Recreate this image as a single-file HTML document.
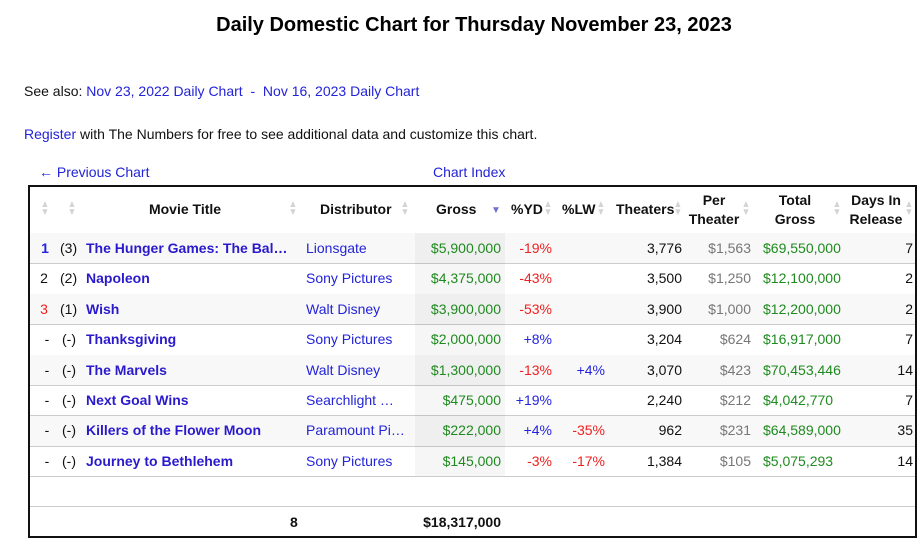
<!DOCTYPE html>
<html><head><meta charset="utf-8"><style>
body{margin:0;width:922px;height:540px;background:#fff;font-family:"Liberation Sans",Arial,sans-serif;font-size:14px;color:#111;position:relative;overflow:hidden}
.a{position:absolute;white-space:nowrap}
.l{color:#2323d8}
h1{position:absolute;top:14px;left:0;width:948px;margin:0;text-align:center;font-size:20px;font-weight:bold;color:#000}
.box{position:absolute;left:28px;top:185px;width:885px;height:349px;border:2px solid #111;box-sizing:content-box}
.row{position:absolute;left:30px;width:885px;height:30px;border-bottom:1px solid #ccc}
.odd{background:#f8f8f8}
.r{text-align:right}
.c{text-align:center}
.t{font-weight:bold;color:#2a1acc}
.gr{color:#1f8a1f}
.red{color:#f02020}
.bl{color:#2323e0}
.gy{color:#777}
.hd{font-weight:bold;color:#111}
.s{position:absolute;top:201px;color:#d4d4d4;font-size:10px;line-height:8px;transform:scaleX(0.9)}
</style></head><body>
<h1>Daily Domestic Chart for Thursday November 23, 2023</h1>
<div class="a" style="left:24px;top:83px">See also: <span class="l">Nov 23, 2022 Daily Chart</span> <span class="l">&nbsp;-&nbsp;</span> <span class="l">Nov 16, 2023 Daily Chart</span></div>
<div class="a" style="left:24px;top:126px"><span class="l">Register</span> with The Numbers for free to see additional data and customize this chart.</div>
<div class="a l" style="left:39px;top:164px">← Previous Chart</div>
<div class="a l" style="left:433px;top:164px">Chart Index</div>

<div class="box"></div>
<div class="a" style="left:30px;top:233px;width:885px;height:1px;background:#111"></div>

<div class="row odd" style="top:233px"></div>
<div class="row" style="top:264px"></div>
<div class="row odd" style="top:294px"></div>
<div class="row" style="top:325px"></div>
<div class="row odd" style="top:355px"></div>
<div class="row" style="top:385px"></div>
<div class="row odd" style="top:416px"></div>
<div class="row" style="top:446px"></div>
<div class="row" style="top:476px"></div>
<div class="a" style="left:415px;top:233px;width:90px;height:243px;background:rgba(0,0,0,0.035)"></div>

<!-- header -->
<div class="a hd c" style="left:120px;width:130px;top:201px">Movie Title</div>
<div class="a hd" style="left:320px;top:201px">Distributor</div>
<div class="a hd" style="left:436px;top:201px">Gross</div>
<div class="a hd" style="left:511px;top:201px">%YD</div>
<div class="a hd" style="left:562px;top:201px">%LW</div>
<div class="a hd" style="left:616px;top:201px">Theaters</div>
<div class="a hd c" style="left:684px;width:60px;top:191px;line-height:19px">Per<br>Theater</div>
<div class="a hd c" style="left:765px;width:60px;top:191px;line-height:19px">Total<br>Gross</div>
<div class="a hd c" style="left:846px;width:60px;top:191px;line-height:19px">Days In<br>Release</div>
<!-- sort icons -->
<div class="s" style="left:40px">▲<br>▼</div>
<div class="s" style="left:67px">▲<br>▼</div>
<div class="s" style="left:288px">▲<br>▼</div>
<div class="s" style="left:400px">▲<br>▼</div>
<div class="a" style="left:491px;top:207px;color:#7070d0;font-size:10px;line-height:8px">▼</div>
<div class="s" style="left:543px">▲<br>▼</div>
<div class="s" style="left:596px">▲<br>▼</div>
<div class="s" style="left:673px">▲<br>▼</div>
<div class="s" style="left:741px">▲<br>▼</div>
<div class="s" style="left:832px">▲<br>▼</div>
<div class="s" style="left:904px">▲<br>▼</div>

<!-- row 1 -->
<div class="a c" style="left:35px;width:20px;top:240px;color:#2323e0;font-weight:bold">1</div>
<div class="a" style="left:60px;top:240px">(3)</div>
<div class="a t" style="left:86px;top:240px">The Hunger Games: The Bal…</div>
<div class="a l" style="left:306px;top:240px">Lionsgate</div>
<div class="a r gr" style="right:421px;top:240px">$5,900,000</div>
<div class="a r red" style="right:370px;top:240px">-19%</div>
<div class="a r" style="right:240px;top:240px">3,776</div>
<div class="a r gy" style="right:171px;top:240px">$1,563</div>
<div class="a gr" style="left:763px;top:240px">$69,550,000</div>
<div class="a r" style="right:9px;top:240px">7</div>
<!-- row 2 -->
<div class="a c" style="left:34px;width:20px;top:270px">2</div>
<div class="a" style="left:60px;top:270px">(2)</div>
<div class="a t" style="left:86px;top:270px">Napoleon</div>
<div class="a l" style="left:306px;top:270px">Sony Pictures</div>
<div class="a r gr" style="right:421px;top:270px">$4,375,000</div>
<div class="a r red" style="right:370px;top:270px">-43%</div>
<div class="a r" style="right:240px;top:270px">3,500</div>
<div class="a r gy" style="right:171px;top:270px">$1,250</div>
<div class="a gr" style="left:763px;top:270px">$12,100,000</div>
<div class="a r" style="right:9px;top:270px">2</div>
<!-- row 3 -->
<div class="a c" style="left:34px;width:20px;top:301px;color:#f02020">3</div>
<div class="a" style="left:60px;top:301px">(1)</div>
<div class="a t" style="left:86px;top:301px">Wish</div>
<div class="a l" style="left:306px;top:301px">Walt Disney</div>
<div class="a r gr" style="right:421px;top:301px">$3,900,000</div>
<div class="a r red" style="right:370px;top:301px">-53%</div>
<div class="a r" style="right:240px;top:301px">3,900</div>
<div class="a r gy" style="right:171px;top:301px">$1,000</div>
<div class="a gr" style="left:763px;top:301px">$12,200,000</div>
<div class="a r" style="right:9px;top:301px">2</div>
<!-- row 4 -->
<div class="a c" style="left:37px;width:20px;top:331px">-</div>
<div class="a" style="left:62px;top:331px">(-)</div>
<div class="a t" style="left:86px;top:331px">Thanksgiving</div>
<div class="a l" style="left:306px;top:331px">Sony Pictures</div>
<div class="a r gr" style="right:421px;top:331px">$2,000,000</div>
<div class="a r bl" style="right:370px;top:331px">+8%</div>
<div class="a r" style="right:240px;top:331px">3,204</div>
<div class="a r gy" style="right:171px;top:331px">$624</div>
<div class="a gr" style="left:763px;top:331px">$16,917,000</div>
<div class="a r" style="right:9px;top:331px">7</div>
<!-- row 5 -->
<div class="a c" style="left:37px;width:20px;top:362px">-</div>
<div class="a" style="left:62px;top:362px">(-)</div>
<div class="a t" style="left:86px;top:362px">The Marvels</div>
<div class="a l" style="left:306px;top:362px">Walt Disney</div>
<div class="a r gr" style="right:421px;top:362px">$1,300,000</div>
<div class="a r red" style="right:370px;top:362px">-13%</div>
<div class="a r bl" style="right:317px;top:362px">+4%</div>
<div class="a r" style="right:240px;top:362px">3,070</div>
<div class="a r gy" style="right:171px;top:362px">$423</div>
<div class="a gr" style="left:763px;top:362px">$70,453,446</div>
<div class="a r" style="right:9px;top:362px">14</div>
<!-- row 6 -->
<div class="a c" style="left:37px;width:20px;top:392px">-</div>
<div class="a" style="left:62px;top:392px">(-)</div>
<div class="a t" style="left:86px;top:392px">Next Goal Wins</div>
<div class="a l" style="left:306px;top:392px">Searchlight …</div>
<div class="a r gr" style="right:421px;top:392px">$475,000</div>
<div class="a r bl" style="right:370px;top:392px">+19%</div>
<div class="a r" style="right:240px;top:392px">2,240</div>
<div class="a r gy" style="right:171px;top:392px">$212</div>
<div class="a gr" style="left:763px;top:392px">$4,042,770</div>
<div class="a r" style="right:9px;top:392px">7</div>
<!-- row 7 -->
<div class="a c" style="left:37px;width:20px;top:422px">-</div>
<div class="a" style="left:62px;top:422px">(-)</div>
<div class="a t" style="left:86px;top:422px">Killers of the Flower Moon</div>
<div class="a l" style="left:306px;top:422px">Paramount Pi…</div>
<div class="a r gr" style="right:421px;top:422px">$222,000</div>
<div class="a r bl" style="right:370px;top:422px">+4%</div>
<div class="a r red" style="right:317px;top:422px">-35%</div>
<div class="a r" style="right:240px;top:422px">962</div>
<div class="a r gy" style="right:171px;top:422px">$231</div>
<div class="a gr" style="left:763px;top:422px">$64,589,000</div>
<div class="a r" style="right:9px;top:422px">35</div>
<!-- row 8 -->
<div class="a c" style="left:37px;width:20px;top:453px">-</div>
<div class="a" style="left:62px;top:453px">(-)</div>
<div class="a t" style="left:86px;top:453px">Journey to Bethlehem</div>
<div class="a l" style="left:306px;top:453px">Sony Pictures</div>
<div class="a r gr" style="right:421px;top:453px">$145,000</div>
<div class="a r red" style="right:370px;top:453px">-3%</div>
<div class="a r red" style="right:317px;top:453px">-17%</div>
<div class="a r" style="right:240px;top:453px">1,384</div>
<div class="a r gy" style="right:171px;top:453px">$105</div>
<div class="a gr" style="left:763px;top:453px">$5,075,293</div>
<div class="a r" style="right:9px;top:453px">14</div>
<!-- total -->
<div class="a hd" style="left:290px;top:514px">8</div>
<div class="a hd r" style="right:421px;top:514px">$18,317,000</div>
</body></html>
